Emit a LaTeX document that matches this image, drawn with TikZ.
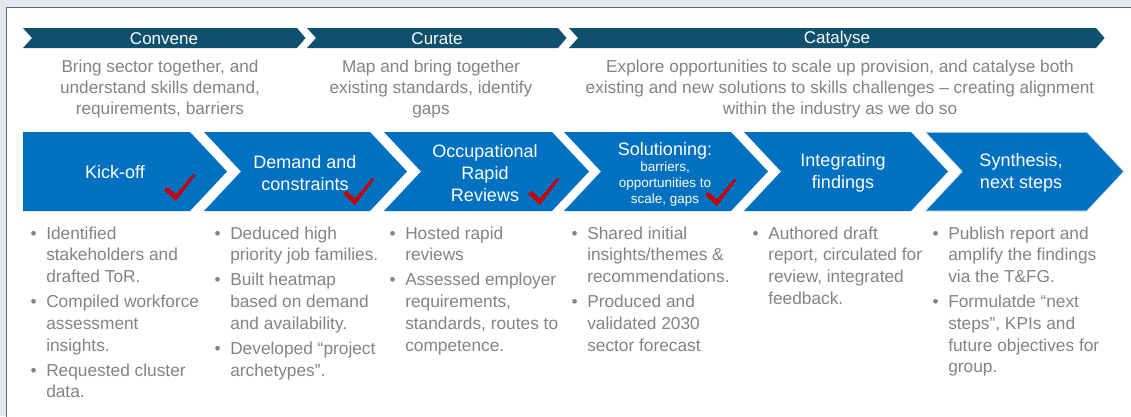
\documentclass[tikz,border=0pt]{standalone}
\usepackage{fontspec}
\setmainfont{Liberation Sans}

\definecolor{pagebg}{HTML}{E7E7EE}
\definecolor{framec}{HTML}{5E6A7D}
\definecolor{phase}{HTML}{0E506E}
\definecolor{stepblue}{HTML}{0070C0}
\definecolor{note}{HTML}{848484}
\definecolor{tick}{HTML}{C80000}

% phase banner: left x, right x (arrow tip and left notch)
\newcommand{\phasebar}[2]{%
  \fill[phase] (#1,28) -- (#2,28) -- (#2+8.5,38) -- (#2,48) -- (#1,48) -- (#1+9,38) -- cycle;}
% step chevron: left x, right x, notch depth (0 = flat start), extra options
\newcommand{\stepshape}[4]{%
  \path[fill=stepblue,#4] (#1,132) -- (#2,132) -- (#2+37,171.5) -- (#2,211) -- (#1,211) -- (#1+#3,171.5) -- cycle;}
% red tick, given its lowest point
\newcommand{\tickmark}[2]{%
  \fill[tick,shift={(#1,#2)}] (0,0) -- (-12,-11) -- (-8.5,-14) -- (0,-6.5) -- (17,-27) -- (19.5,-26) -- cycle;}

\tikzset{
  phaselabel/.style={text=white, inner sep=0pt, font=\fontsize{17}{20}\selectfont},
  phasenote/.style={text=note, inner sep=0pt, align=center, font=\fontsize{17.2}{21.3}\selectfont},
  steplabel/.style={text=white, inner sep=0pt, align=center, font=\fontsize{18}{22}\selectfont},
  stepsmall/.style={text=white, inner sep=0pt, align=center, font=\fontsize{13.5}{15.6}\selectfont},
  bullets/.style={anchor=base west, inner sep=0pt, text=note, font=\fontsize{17.3}{21.7}\selectfont},
}
\newcommand{\bul}{\textbullet}
\newenvironment{blist}{\begin{tabular}[t]{@{}l@{\hspace{9.5pt}}l@{}}}{\end{tabular}}

\begin{document}
\begin{tikzpicture}[x=1pt,y=-1pt]
\useasboundingbox (0,0) rectangle (1131,416);
\clip (0,0) rectangle (1131,416);
\fill[pagebg] (0,0) rectangle (1131,416);
\filldraw[fill=white, draw=framec, line width=1.6pt] (6.5,7.5) rectangle (1160,440);

% phase banners
\phasebar{23}{297}
\phasebar{307}{558}
\phasebar{569}{1096}
\node[phaselabel] (conv) at (164,39) {Convene};
\node[phaselabel] (cur) at (437,39) {Curate};
\node[phaselabel] (cat) at (837,39) {Catalyse};

\node[phasenote] (convtxt) at (160,89) {Bring sector together, and\\understand skills demand,\\requirements, barriers};
\node[phasenote] (curtxt) at (431,89) {Map and bring together\\existing standards, identify\\gaps};
\node[phasenote] (cattxt) at (840,89) {Explore opportunities to scale up provision, and catalyse both\\existing and new solutions to skills challenges – creating alignment\\within the industry as we do so};

% step chevrons
\stepshape{23}{190}{0}{}
\stepshape{204}{370}{37}{}
\stepshape{384}{552}{37}{}
\stepshape{564}{731}{37}{}
\stepshape{744}{911}{37}{}
\stepshape{925}{1087}{37}{draw=gray!18, line width=1pt}

\node[steplabel] (s1) at (115,172) {Kick-off};
\node[steplabel] (s2) at (305,173) {Demand and\\constraints};
\node[steplabel] (s3) at (485,173) {Occupational\\Rapid\\Reviews};
\node[steplabel] (s4) at (665,151) {Solutioning:};
\node[stepsmall] (s4b) at (665,184) {barriers,\\opportunities to\\scale, gaps};
\node[steplabel] (s5) at (843,173) {Integrating\\findings};
\node[steplabel] (s6) at (1021,173) {Synthesis,\\next steps};

% completed steps
\tickmark{176}{201}
\tickmark{355}{205}
\tickmark{540}{205}
\tickmark{717}{206}

% activity lists
\node[bullets] (c1) at (30.5,239) {\begin{blist}
\bul & Identified\\ & stakeholders and\\ & drafted ToR.\\[3.5pt]
\bul & Compiled workforce\\ & assessment\\ & insights.\\[3.5pt]
\bul & Requested cluster\\ & data.
\end{blist}};
\node[bullets] (c2) at (214.5,239) {\begin{blist}
\bul & Deduced high\\ & priority job families.\\[3.5pt]
\bul & Built heatmap\\ & based on demand\\ & and availability.\\[3.5pt]
\bul & Developed “project\\ & archetypes”.
\end{blist}};
\node[bullets] (c3) at (389.5,239) {\begin{blist}
\bul & Hosted rapid\\ & reviews\\[3.5pt]
\bul & Assessed employer\\ & requirements,\\ & standards, routes to\\ & competence.
\end{blist}};
\node[bullets] (c4) at (571.5,239) {\begin{blist}
\bul & Shared initial\\ & insights/themes \&\\ & recommendations.\\[3.5pt]
\bul & Produced and\\ & validated 2030\\ & sector forecast
\end{blist}};
\node[bullets] (c5) at (752.5,239) {\begin{blist}
\bul & Authored draft\\ & report, circulated for\\ & review, integrated\\ & feedback.
\end{blist}};
\node[bullets] (c6) at (932.5,239) {\begin{blist}
\bul & Publish report and\\ & amplify the findings\\ & via the T\&FG.\\[3.5pt]
\bul & Formulatde “next\\ & steps”, KPIs and\\ & future objectives for\\ & group.
\end{blist}};
\end{tikzpicture}
\end{document}
